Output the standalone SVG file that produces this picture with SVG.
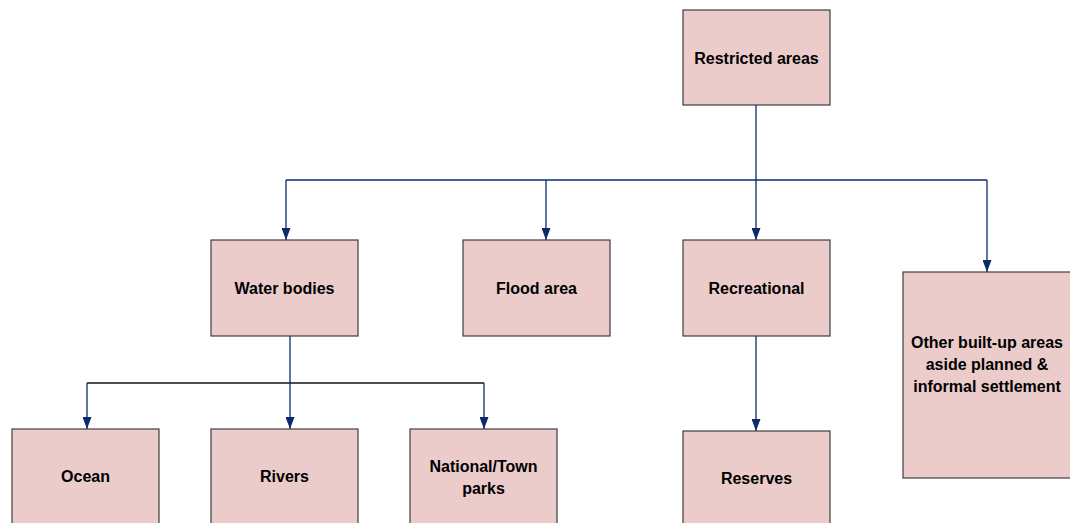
<svg xmlns="http://www.w3.org/2000/svg" width="1070" height="523" viewBox="0 0 1070 523">
<style>
.box{fill:#ebcccb;stroke:#3f3f3f;stroke-width:1.2}
.lbl{font-family:"Liberation Sans",Arial,sans-serif;font-weight:bold;font-size:16px;fill:#000;text-anchor:middle}
.ln{fill:none;stroke:#0c2a6b;stroke-width:1.3}
.lk{fill:none;stroke:#111;stroke-width:1.3}
</style>
<defs>
<marker id="ah" markerUnits="userSpaceOnUse" markerWidth="13" markerHeight="9" refX="12" refY="4.5" orient="auto">
<path d="M0,0 L12,4.5 L0,9 z" fill="#0c2a6b"/>
</marker>
</defs>
<rect width="1070" height="523" fill="#fff"/>
<g id="connectors">
<path class="ln" d="M756,105 V240" marker-end="url(#ah)"/>
<path class="ln" d="M286,180 H987"/>
<path class="ln" d="M286,180 V240" marker-end="url(#ah)"/>
<path class="ln" d="M546,180 V240" marker-end="url(#ah)"/>
<path class="ln" d="M987,180 V272" marker-end="url(#ah)"/>
<path class="lk" d="M87,383 H484"/>
<path class="ln" d="M290,336 V429" marker-end="url(#ah)"/>
<path class="ln" d="M87,383 V429" marker-end="url(#ah)"/>
<path class="ln" d="M484,383 V429" marker-end="url(#ah)"/>
<path class="ln" d="M756,336 V431" marker-end="url(#ah)"/>
</g>
<g id="restricted"><rect class="box" x="683" y="10" width="147" height="95"/><text class="lbl" x="756.5" y="64">Restricted areas</text></g>
<g id="water"><rect class="box" x="211" y="240" width="147" height="96"/><text class="lbl" x="284.5" y="294">Water bodies</text></g>
<g id="flood"><rect class="box" x="463" y="240" width="147" height="96"/><text class="lbl" x="536.5" y="294">Flood area</text></g>
<g id="recreational"><rect class="box" x="683" y="240" width="147" height="96"/><text class="lbl" x="756.5" y="294">Recreational</text></g>
<g id="other"><rect class="box" x="903" y="272" width="168" height="206"/><text class="lbl" x="987" y="348">Other built-up areas</text><text class="lbl" x="987" y="370">aside planned &amp;</text><text class="lbl" x="987" y="392">informal settlement</text></g>
<g id="ocean"><rect class="box" x="12" y="429" width="147" height="100"/><text class="lbl" x="85.5" y="482">Ocean</text></g>
<g id="rivers"><rect class="box" x="211" y="429" width="147" height="100"/><text class="lbl" x="284.5" y="482">Rivers</text></g>
<g id="parks"><rect class="box" x="410" y="429" width="147" height="100"/><text class="lbl" x="483.5" y="472">National/Town</text><text class="lbl" x="483.5" y="494">parks</text></g>
<g id="reserves"><rect class="box" x="683" y="431" width="147" height="100"/><text class="lbl" x="756.5" y="484">Reserves</text></g>
</svg>
